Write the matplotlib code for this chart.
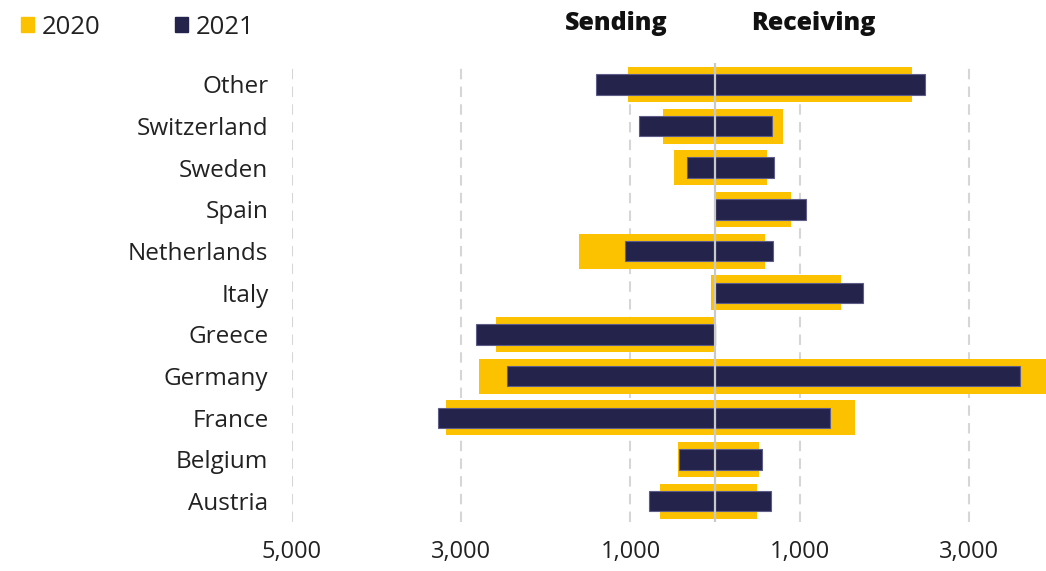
import matplotlib.pyplot as plt
from matplotlib.patches import Patch

# values (number of people, sending shown to the left)
countries = ["Austria", "Belgium", "France", "Germany", "Greece", "Italy",
             "Netherlands", "Spain", "Sweden", "Switzerland", "Other"]
send_2020 = [650, 440, 3180, 2790, 2590, 50, 1610, 0, 480, 620, 1030]
send_2021 = [780, 430, 3270, 2460, 2830, 0, 1070, 0, 330, 900, 1410]
recv_2020 = [500, 520, 1650, 4300, 0, 1490, 590, 900, 610, 800, 2330]
recv_2021 = [660, 560, 1360, 3610, 0, 1750, 680, 1070, 700, 670, 2480]

tick_vals = [-5000, -3000, -1000, 1000, 3000]
tick_labels = ["5,000", "3,000", "1,000", "1,000", "3,000"]

YELLOW = "#fcc200"
NAVY = "#24234b"
TEXT = "#222222"

plt.rcParams["font.family"] = ["Open Sans", "DejaVu Sans"]

fig = plt.figure(figsize=(10.46, 5.71), dpi=100)
ax = fig.add_axes([0.2792, 0.0858, 0.7208, 0.803])

y = list(range(len(countries)))
neg20 = [-v for v in send_2020]
neg21 = [-v for v in send_2021]

ax.barh(y, neg20, height=0.84, color=YELLOW, zorder=2)
ax.barh(y, recv_2020, height=0.84, color=YELLOW, zorder=2)
ax.barh(y, neg21, height=0.49, color=NAVY, edgecolor="#5e5c88", linewidth=0.8, zorder=3)
ax.barh(y, recv_2021, height=0.49, color=NAVY, edgecolor="#5e5c88", linewidth=0.8, zorder=3)

ax.axvline(0, color="#c9c9c9", lw=1.6, zorder=4)

ax.set_xlim(-5000, 3912)
ax.set_ylim(-0.5, len(countries) - 0.5)
ax.set_xticks(tick_vals)
ax.set_xticklabels(tick_labels)
ax.set_yticks(y)
ax.set_yticklabels(countries)
ax.grid(axis="x", color="#d6d6d6", lw=1.5, linestyle=(0, (5, 3.5)))
ax.set_axisbelow(True)
for s in ax.spines.values():
    s.set_visible(False)
ax.tick_params(axis="y", length=0, pad=17, labelsize=17.5, labelcolor=TEXT)
ax.tick_params(axis="x", length=0, pad=13, labelsize=17, labelcolor=TEXT)

fig.text(0.589, 0.958, "Sending", ha="center", va="center",
         fontsize=18, fontweight="heavy", color="#111111")
fig.text(0.778, 0.958, "Receiving", ha="center", va="center",
         fontsize=18, fontweight="heavy", color="#111111")

handles = [Patch(color=YELLOW, label="2020"), Patch(color=NAVY, label="2021")]
fig.legend(handles=handles, loc="center left", bbox_to_anchor=(-0.002, 0.952),
           ncol=2, frameon=False, fontsize=18.5, handlelength=0.5,
           handleheight=0.5, handletextpad=0.3, columnspacing=2.9,
           labelcolor=TEXT)

fig.savefig("out.png", dpi=100)
